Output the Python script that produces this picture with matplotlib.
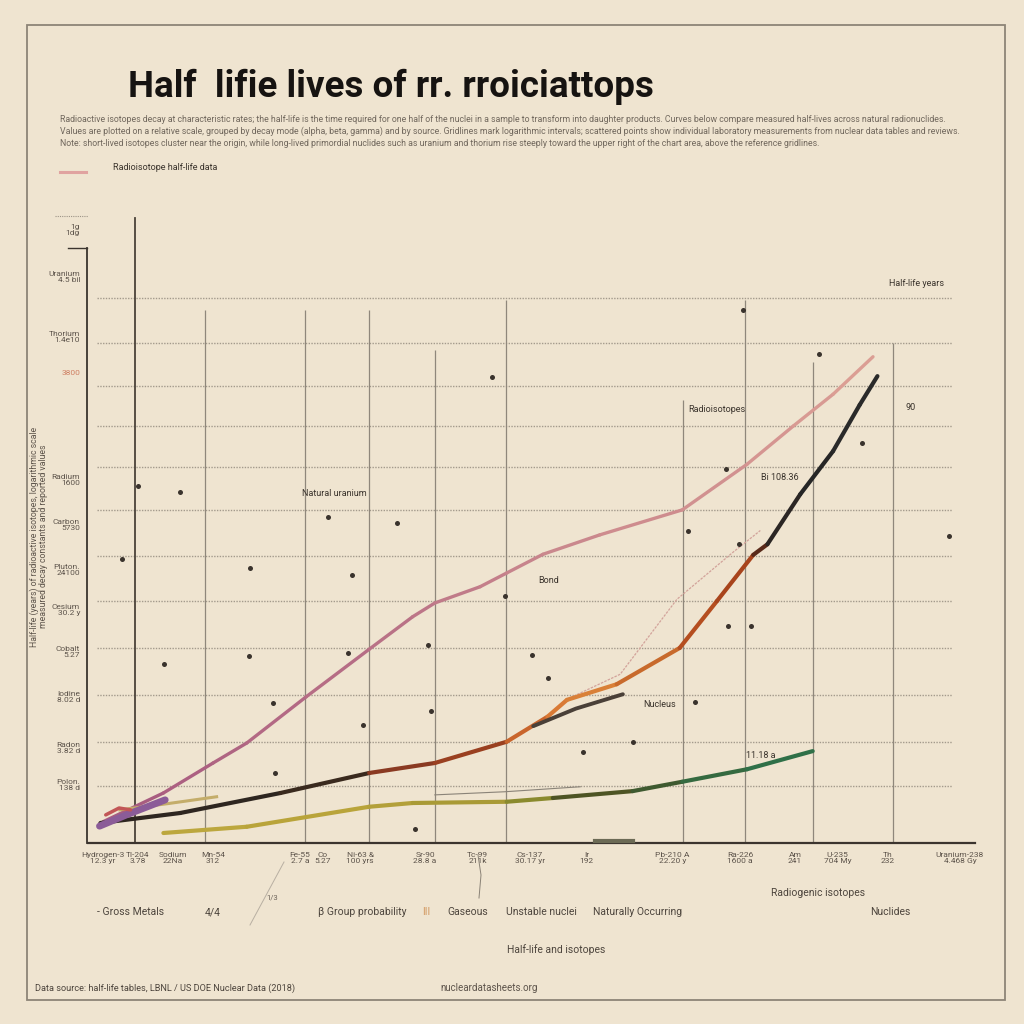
import matplotlib
matplotlib.use("Agg")
import matplotlib.pyplot as plt
from matplotlib.collections import LineCollection
import numpy as np

# ---------------- data ----------------
pink_x = [1.7, 8.5, 14.1, 17.9, 24.6, 31.7, 36.6, 39.1, 44.2, 47.2, 51.3, 57.7, 67.0, 74.3, 79.5, 84.0, 88.5]
pink_y = [3.4, 8.0, 12.8, 16.0, 23.4, 31.0, 36.2, 38.4, 41.0, 43.2, 46.2, 49.3, 53.3, 60.6, 66.7, 71.8, 77.8]

decay_x = [1.4, 10.4, 21.7, 31.7, 39.1, 47.2, 51.8, 54.0, 59.6, 66.7, 70.9, 75.0, 76.6, 80.3, 84.0, 87.0, 89.0]
decay_y = [3.2, 4.8, 8.0, 11.2, 12.8, 16.2, 20.2, 22.9, 25.4, 31.2, 38.7, 46.1, 47.8, 55.8, 62.7, 70.1, 74.7]

stable_x = [8.5, 17.9, 31.7, 36.6, 47.2, 52.4, 61.4, 67.0, 74.3, 81.7]
stable_y = [1.6, 2.6, 5.8, 6.4, 6.6, 7.2, 8.3, 9.8, 11.8, 14.7]

purple_x = [1.3, 4.5, 8.7]
purple_y = [2.7, 4.6, 6.9]
olive_short_x = [3.6, 9.0, 14.5]
olive_short_y = [5.3, 6.3, 7.4]
dark_short_x = [50.2, 55.0, 60.3]
dark_short_y = [18.7, 21.5, 23.8]
trace_x = [54.0, 60.0, 66.4, 72.7, 75.8]
trace_y = [23.0, 27.0, 39.0, 46.5, 50.0]
gray_thin_x = [39.1, 47.0, 55.5]
gray_thin_y = [7.7, 8.2, 9.0]

dots_x = [45.6, 10.4, 27.1, 34.8, 3.8, 18.3, 29.8, 8.6, 18.2, 29.3, 38.3, 50.1, 51.9, 20.9,
          31.0, 38.7, 21.1, 36.9, 47.0, 73.8, 82.4, 87.3, 71.9, 67.6, 72.2, 74.8, 68.4, 55.8,
          61.4, 97.1, 73.4, 5.6]
dots_y = [74.6, 56.2, 52.2, 51.2, 45.4, 44.0, 42.9, 28.6, 29.9, 30.4, 31.7, 30.1, 26.4, 22.4,
          18.9, 21.1, 11.2, 2.2, 39.5, 85.3, 78.2, 64.0, 59.8, 49.9, 34.7, 34.7, 22.6, 14.6,
          16.2, 49.1, 47.8, 57.1]

hgrid_y = [87.2, 80.0, 73.1, 66.7, 60.2, 53.3, 45.9, 38.7, 31.2, 23.7, 16.2, 9.1]
vgrid_x = [13.2, 24.5, 31.7, 39.1, 47.1, 67.1, 74.1, 81.7, 90.8]
vgrid_top = [85.3, 85.3, 85.3, 78.9, 86.9, 70.9, 86.9, 77.0, 80.0]

ytick_y = [98.1, 90.6, 81.0, 75.2, 58.1, 50.9, 43.7, 37.3, 30.6, 23.4, 15.2, 9.3]
ytick_labels = ["1g\n1dg", "Uranium\n4.5 bil", "Thorium\n1.4e10", "3800", "Radium\n1600",
                "Carbon\n5730", "Pluton.\n24100", "Cesium\n30.2 y", "Cobalt\n5.27",
                "Iodine\n8.02 d", "Radon\n3.82 d", "Polon.\n138 d"]

xtick_x = [1.7, 5.6, 9.6, 14.1, 23.9, 26.5, 30.7, 38.0, 43.9, 49.8, 56.2, 65.9, 73.5,
           79.7, 84.5, 90.1, 98.3]
xtick_labels = ["Hydrogen-3\n12.3 yr", "Tl-204\n3.78", "Sodium\n22Na", "Mn-54\n312",
                "Fe-55\n2.7 a", "Co\n5.27", "Ni-63 &\n100 yrs", "Sr-90\n28.8 a",
                "Tc-99\n211k", "Cs-137\n30.17 yr", "Ir\n192", "Pb-210 A\n22.20 y",
                "Ra-226\n1600 a", "Am\n241", "U-235\n704 My", "Th\n232",
                "Uranium-238\n4.468 Gy"]

group_labels = ["- Gross Metals", "4/4", "\u03b2 Group probability", "III", "Gaseous",
                "Unstable nuclei", "Naturally Occurring", "Radiogenic isotopes", "Nuclides"]
group_px = [131, 213, 362, 426, 468, 541, 638, 818, 890]
group_py = [912, 912, 912, 912, 912, 912, 912, 893, 912]

inner_labels = ["Natural uranium", "Bond", "Radioisotopes", "Bi 108.36", "Nucleus",
                "11.18 a", "90", "Half-life years"]
inner_x = [27.8, 51.9, 70.9, 78.0, 64.5, 75.8, 92.7, 93.4]
inner_y = [56.0, 42.0, 69.3, 58.4, 22.2, 14.0, 69.6, 89.6]

title = "Half  lifie lives of rr. rroiciattops"
subtitle_lines = [
    "Radioactive isotopes decay at characteristic rates; the half-life is the time required for one half of the nuclei in a sample to transform into daughter products. Curves below compare measured half-lives across natural radionuclides.",
    "Values are plotted on a relative scale, grouped by decay mode (alpha, beta, gamma) and by source. Gridlines mark logarithmic intervals; scattered points show individual laboratory measurements from nuclear data tables and reviews.",
    "Note: short-lived isotopes cluster near the origin, while long-lived primordial nuclides such as uranium and thorium rise steeply toward the upper right of the chart area, above the reference gridlines.",
]
legend_label = "Radioisotope half-life data"
ylabel = "Half-life (years) of radioactive isotopes, logarithmic scale\nmeasured decay constants and reported values"
xlabel = "Half-life and isotopes"
footer_left = "Data source: half-life tables, LBNL / US DOE Nuclear Data (2018)"
footer_right = "nucleardatasheets.org"

# ---------------- style ----------------
BG = "#EFE4D0"
TXT = "#3a332c"
NARROW = ["Roboto", "DejaVu Sans"]

fig = plt.figure(figsize=(10.24, 10.24), dpi=100, facecolor=BG)

def fx(px):
    return px / 1024.0

def fy(py):
    return 1 - py / 1024.0

# outer frame
frame = plt.Rectangle((fx(27), fy(1000)), fx(1005) - fx(27), fy(25) - fy(1000),
                      transform=fig.transFigure, fill=False, ec="#8d8477", lw=1.3)
fig.patches.append(frame)

# title & subtitle
fig.text(fx(128), fy(97), title, fontsize=26.5, fontweight="bold", color="#161311",
         family=NARROW, ha="left", va="baseline")
for i, line in enumerate(subtitle_lines):
    fig.text(fx(60), fy(119 + i * 12.5), line, fontsize=6.3, color="#6a6157",
             family=NARROW, ha="left", va="center", alpha=0.95)

# legend
fig.add_artist(plt.Line2D([fx(60), fx(86)], [fy(172), fy(172)], transform=fig.transFigure,
                          color="#e0a3a0", lw=2.2))
fig.text(fx(113), fy(168), legend_label, fontsize=6.5, color=TXT, family=NARROW,
         ha="left", va="center")

# main axes (data units 0..100 on both axes)
ax = fig.add_axes([fx(88), fy(843), fx(975) - fx(88), fy(218) - fy(843)])
ax.set_xlim(0, 100)
ax.set_ylim(0, 100)
ax.axis("off")
ax.patch.set_alpha(0)

# horizontal dotted gridlines
for yv in hgrid_y:
    ax.plot([1.0, 97.4], [yv, yv], color="#a39a8c", lw=1.0, ls=(0, (1, 1)), zorder=1)
# vertical gridlines
ax.vlines(vgrid_x, 0, vgrid_top, color="#8f877b", lw=0.9, zorder=1)
ax.plot([5.3, 5.3], [0, 100], color="#4a4239", lw=1.3, zorder=2, clip_on=False)

# axes lines
ax.plot([0, 100], [0, 0], color="#3b342e", lw=1.6, zorder=3, clip_on=False)
ax.plot([-0.1, -0.1], [0, 95.2], color="#3b342e", lw=1.3, zorder=3, clip_on=False)
ax.plot([-2.3, -0.1], [95.2, 95.2], color="#3b342e", lw=1.0, zorder=3, clip_on=False)
ax.plot([-3.7, 0.0], [100.3, 100.3], color="#9c9386", lw=0.8, ls=(0, (1, 1)), clip_on=False)

def colored_line(xs, ys, cols, lw, z):
    pts = np.column_stack([xs, ys])
    segs = [pts[i:i + 2] for i in range(len(pts) - 1)]
    lc = LineCollection(segs, colors=cols, linewidths=lw, capstyle="round",
                        joinstyle="round", zorder=z)
    ax.add_collection(lc)

# pink series: mauve to light rose
n = len(pink_x) - 1
c0 = np.array([0.66, 0.36, 0.50])
c1 = np.array([0.86, 0.62, 0.58])
pink_cols = [tuple(c0 + (c1 - c0) * i / (n - 1)) for i in range(n)]
colored_line(pink_x, pink_y, pink_cols, 2.4, 5)

# decay series: black -> brown -> orange -> black
decay_cols = ["#2e2620", "#2e2620", "#3a2a1e", "#8a3a22", "#9a4020", "#c9652c", "#d97a35",
              "#d98038", "#c86a2c", "#b54e20", "#a8441c", "#5a2a1a", "#2b2624", "#262626",
              "#2a2a2a", "#2a2a2a"]
colored_line(decay_x, decay_y, decay_cols, 3.0, 6)

# stable series: olive -> dark -> green
stable_cols = ["#bca73e", "#b9a43a", "#b3a03a", "#a99a36", "#8a8a2e", "#4e5424", "#3f5a30",
               "#356a40", "#2f7048"]
colored_line(stable_x, stable_y, stable_cols, 3.0, 6)

ax.plot(purple_x, purple_y, color="#8b5c98", lw=5, solid_capstyle="round", zorder=7)
ax.plot([2.0, 3.5, 4.8], [4.5, 5.6, 5.3], color="#c25656", lw=2.5, solid_capstyle="round", zorder=7)
ax.plot(olive_short_x, olive_short_y, color="#c4ad6a", lw=2.2, zorder=5)
ax.plot(dark_short_x, dark_short_y, color="#4a4038", lw=2.8, solid_capstyle="round", zorder=6)
ax.plot(trace_x, trace_y, color="#d2a29a", lw=0.9, ls=(0, (2, 1)), zorder=4)
ax.plot(gray_thin_x, gray_thin_y, color="#8a8378", lw=0.8, zorder=4)
ax.plot([57.2, 61.4], [0.3, 0.3], color="#6b6a55", lw=3, zorder=4, clip_on=False)

# measurement dots
ax.scatter(dots_x, dots_y, s=13, color="#3a332d", zorder=8, linewidths=0)

# inner labels
for t, xv, yv in zip(inner_labels, inner_x, inner_y):
    ax.text(xv, yv, t, fontsize=6.5, color=TXT, family=NARROW, ha="center", va="center")

# y tick labels
for yv, t in zip(ytick_y, ytick_labels):
    col = "#cf7f62" if t == "3800" else "#5d544b"
    ax.text(-0.9, yv, t, fontsize=6.0, color=col, family=NARROW, ha="right", va="center",
            linespacing=0.95, clip_on=False)
ax.text(-5.6, 49.0, ylabel, fontsize=6.3, color="#5d544b", family=NARROW, rotation=90,
        ha="center", va="center", linespacing=1.0, clip_on=False)

# x tick labels
for xv, t in zip(xtick_x, xtick_labels):
    ax.text(xv, -2.4, t, fontsize=6.0, color="#5d544b", family=NARROW, ha="center",
            va="center", linespacing=0.95, clip_on=False)

# group labels below axis
for t, px, py in zip(group_labels, group_px, group_py):
    col = "#d39a62" if t == "III" else "#4d453d"
    fig.text(fx(px), fy(py), t, fontsize=7.5, color=col, family=NARROW, ha="center", va="center")
fig.add_artist(plt.Line2D([fx(250), fx(284)], [fy(925), fy(862)], transform=fig.transFigure,
                          color="#b8afa2", lw=0.7))
fig.text(fx(272), fy(897), "1/3", fontsize=5.5, color="#6b6258", family=NARROW, ha="center",
         va="center")
fig.add_artist(plt.Line2D([fx(478), fx(481), fx(479)], [fy(855), fy(875), fy(898)],
                          transform=fig.transFigure, color="#8a8276", lw=0.7))

fig.text(fx(556), fy(950), xlabel, fontsize=7.5, color="#4d453d", family=NARROW,
         ha="center", va="center")
fig.text(fx(35), fy(988), footer_left, fontsize=6.6, color="#4d453d", family=NARROW,
         ha="left", va="center")
fig.text(fx(440), fy(988), footer_right, fontsize=7.0, color="#5d544b", family=NARROW,
         ha="left", va="center")

fig.savefig("out.png", dpi=100, facecolor=BG)
